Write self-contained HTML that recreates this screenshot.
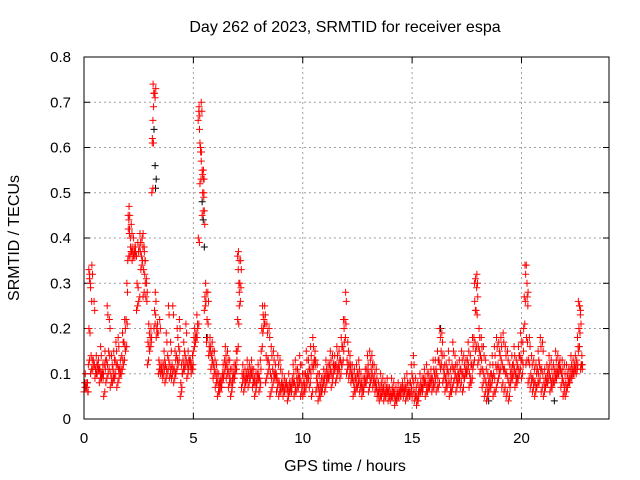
<!DOCTYPE html>
<html><head><meta charset="utf-8"><style>
body{margin:0;background:#fff;}
svg{display:block;font-family:"Liberation Sans",sans-serif;}
</style></head><body>
<svg id="chart" width="640" height="480" viewBox="0 0 640 480" xmlns="http://www.w3.org/2000/svg">
<rect width="640" height="480" fill="#fff"/>
<text x="345" y="32" font-size="16" text-anchor="middle">Day 262 of 2023, SRMTID for receiver espa</text>
<text transform="translate(19,238) rotate(-90)" font-size="16" text-anchor="middle">SRMTID / TECUs</text>
<text x="345" y="471" font-size="16" text-anchor="middle">GPS time / hours</text>
<g id="grid"></g><g id="axes"></g><g id="marks"></g>
<rect x="84" y="57" width="525" height="362" fill="none" stroke="#000" stroke-width="1"/>
</svg>
<script>
const xTicks=[0,5,10,15,20];
const yTicks=[0,0.1,0.2,0.3,0.4,0.5,0.6,0.7,0.8];
const yTickLabels=["0","0.1","0.2","0.3","0.4","0.5","0.6","0.7","0.8"];
const step=0.1;
const lowVals=[.06,.07,.12,.10,.11,.09,.10,.08,.09,.05,
.08,.10,.07,.08,.09,.07,.09,.10,.12,.15,
.35,.36,.35,.36,.24,.26,.33,.27,.30,.12,
.15,.50,.20,.18,.10,.10,.09,.08,.10,.09,
.09,.08,.10,.12,.05,.10,.11,.09,.12,.10,
.15,.17,.20,.52,.45,.24,.17,.14,.11,.09,
.07,.05,.06,.08,.10,.09,.07,.05,.08,.10,
.15,.25,.07,.06,.08,.07,.09,.07,.05,.08,
.06,.15,.20,.08,.10,.05,.07,.09,.06,.05,
.06,.05,.07,.04,.06,.07,.05,.06,.07,.05,
.05,.06,.08,.07,.05,.12,.06,.04,.05,.07,
.06,.08,.09,.07,.10,.08,.10,.09,.12,.17,
.10,.09,.08,.05,.06,.07,.06,.05,.07,.08,
.06,.08,.07,.06,.05,.04,.05,.04,.05,.04,
.04,.05,.03,.04,.05,.06,.05,.04,.05,.05,
.05,.04,.03,.05,.06,.07,.05,.06,.07,.06,
.07,.06,.07,.11,.08,.06,.07,.05,.06,.08,
.06,.08,.07,.06,.09,.10,.07,.08,.12,.15,
.12,.10,.07,.05,.04,.06,.07,.05,.06,.08,
.10,.07,.06,.05,.04,.08,.09,.07,.08,.10,
.09,.20,.12,.08,.07,.06,.05,.07,.08,.06,
.05,.07,.08,.06,.07,.08,.09,.10,.07,.05,
.05,.07,.08,.09,.10,.10,.15,.11];
const midVals=[.08,.07,.20,.14,.13,.11,.12,.11,.10,.12,
.13,.15,.10,.11,.13,.12,.11,.14,.17,.22,
.42,.38,.37,.37,.30,.38,.36,.33,.27,.17,
.18,.62,.24,.20,.13,.11,.12,.12,.14,.12,
.12,.11,.14,.16,.08,.13,.14,.12,.13,.12,
.18,.19,.40,.60,.50,.27,.22,.16,.14,.12,
.10,.08,.08,.10,.13,.12,.10,.08,.10,.12,
.22,.30,.10,.09,.10,.10,.11,.09,.08,.10,
.09,.20,.22,.14,.13,.10,.11,.10,.09,.08,
.08,.07,.08,.07,.07,.09,.08,.09,.10,.08,
.08,.10,.10,.11,.12,.13,.09,.07,.07,.09,
.10,.10,.12,.10,.12,.12,.12,.13,.16,.22,
.13,.12,.10,.08,.09,.10,.08,.07,.09,.11,
.10,.11,.09,.08,.06,.07,.07,.06,.07,.06,
.06,.06,.05,.06,.06,.07,.07,.07,.06,.08,
.09,.06,.05,.07,.07,.09,.08,.08,.09,.09,
.10,.10,.13,.15,.11,.09,.11,.08,.12,.11,
.09,.10,.11,.10,.11,.13,.10,.12,.18,.24,
.16,.14,.11,.09,.07,.09,.10,.10,.12,.12,
.14,.12,.11,.10,.08,.11,.12,.10,.12,.14,
.13,.27,.18,.13,.10,.09,.08,.11,.12,.11,
.08,.09,.11,.09,.09,.11,.11,.12,.10,.08,
.08,.09,.11,.11,.12,.13,.20,.12];
const highVals=[.10,.08,.32,.34,.26,.14,.13,.16,.12,.15,
.25,.22,.14,.15,.17,.18,.13,.19,.22,.30,
.47,.43,.40,.38,.39,.41,.40,.37,.30,.21,
.20,.74,.28,.21,.22,.12,.15,.19,.25,.17,
.25,.15,.20,.22,.12,.17,.21,.15,.13,.14,
.20,.23,.69,.70,.55,.30,.28,.18,.17,.15,
.12,.10,.09,.12,.16,.15,.13,.11,.12,.15,
.37,.35,.12,.11,.13,.12,.13,.11,.10,.12,
.13,.25,.25,.21,.20,.16,.15,.12,.14,.13,
.10,.09,.08,.10,.08,.12,.13,.11,.14,.12,
.10,.15,.13,.16,.18,.15,.12,.10,.09,.11,
.13,.12,.15,.14,.14,.16,.15,.18,.22,.28,
.17,.14,.12,.11,.12,.13,.10,.09,.11,.14,
.15,.14,.12,.11,.08,.10,.09,.08,.09,.07,
.09,.08,.07,.08,.07,.08,.09,.10,.08,.12,
.14,.09,.08,.10,.09,.11,.12,.10,.11,.13,
.13,.15,.20,.19,.14,.12,.15,.11,.17,.14,
.12,.13,.15,.14,.13,.17,.14,.18,.26,.32,
.20,.18,.16,.13,.10,.12,.14,.16,.18,.17,
.18,.19,.16,.15,.12,.14,.16,.13,.16,.19,
.17,.34,.27,.18,.14,.13,.12,.15,.18,.17,
.11,.12,.14,.13,.12,.15,.14,.13,.13,.12,
.12,.11,.14,.13,.14,.18,.25,.14];
const peakTimes=[0.22,0.25,0.3,0.35,2.02,2.05,2.08,2.12,2.2,2.3,2.4,2.6,2.7,2.75,2.8,3.12,3.15,3.18,3.2,3.22,3.25,3.28,5.22,5.25,5.28,5.3,5.33,5.36,5.4,5.42,5.45,5.48,5.5,5.52,7.02,7.05,7.08,7.1,17.85,17.9,17.95,18.0,20.22,20.25,20.3,22.6,22.65,22.7,22.72];
const peakVals=[0.33,0.31,0.29,0.26,0.45,0.44,0.42,0.40,0.38,0.37,0.36,0.39,0.41,0.38,0.35,0.61,0.66,0.69,0.72,0.72,0.71,0.73,0.66,0.68,0.64,0.61,0.59,0.57,0.55,0.54,0.53,0.50,0.46,0.43,0.36,0.33,0.30,0.28,0.30,0.31,0.29,0.27,0.34,0.30,0.28,0.26,0.25,0.24,0.21];
const blackTimes=[3.2,3.25,3.3,3.27,5.4,5.45,5.5,5.6,16.3,19.8,18.5,21.5];
const blackVals=[0.64,0.56,0.53,0.51,0.48,0.44,0.38,0.18,0.20,0.09,0.04,0.04];

const X0=84,X1=609,Y0=419,Y1=57,XMAX=24,YMAX=0.8;
const xs=v=>X0+(v/XMAX)*(X1-X0);
const ys=v=>Y0-(v/YMAX)*(Y0-Y1);
const NS="http://www.w3.org/2000/svg";
const grid=document.getElementById('grid'),axes=document.getElementById('axes'),marks=document.getElementById('marks');
function mk(tag,parent){const e=document.createElementNS(NS,tag);parent.appendChild(e);return e;}
xTicks.forEach(t=>{
  const x=xs(t);
  if(t>0){const g=mk('line',grid);
  
  
  g.setAttribute('x1',x);g.setAttribute('x2',x);g.setAttribute('y1',Y1);g.setAttribute('y2',Y0);g.setAttribute('stroke','#a0a0a0');g.setAttribute('stroke-dasharray','2,3');}
  [[Y0,Y0-6],[Y1,Y1+6]].forEach(p=>{const k=mk('line',axes);
  
  
  k.setAttribute('x1',x);k.setAttribute('x2',x);k.setAttribute('y1',p[0]);k.setAttribute('y2',p[1]);k.setAttribute('stroke','#000');});
  const l=mk('text',axes);
  
  
  l.setAttribute('x',x);l.setAttribute('y',443);l.setAttribute('font-size','15');l.setAttribute('text-anchor','middle');l.textContent=String(t);
});
yTicks.forEach((t,i)=>{
  const y=ys(t);
  if(t>0&&t<YMAX){const g=mk('line',grid);
  
  
  g.setAttribute('x1',X0);g.setAttribute('x2',X1);g.setAttribute('y1',y);g.setAttribute('y2',y);g.setAttribute('stroke','#a0a0a0');g.setAttribute('stroke-dasharray','2,3');}
  [[X0,X0+6],[X1,X1-6]].forEach(p=>{const k=mk('line',axes);
  
  
  k.setAttribute('x1',p[0]);k.setAttribute('x2',p[1]);k.setAttribute('y1',y);k.setAttribute('y2',y);k.setAttribute('stroke','#000');});
  const l=mk('text',axes);
  
  
  l.setAttribute('x',71);l.setAttribute('y',y+5);l.setAttribute('font-size','15');l.setAttribute('text-anchor','end');l.textContent=yTickLabels[i];
});
function cross(t,v,color,name){
  const x=xs(t),y=ys(v);
  const p=mk('path',marks);
  
  
  p.setAttribute('d',`M${x-3.5} ${y}H${x+3.5}M${x} ${y-3.5}V${y+3.5}`);
  p.setAttribute('stroke',color);p.setAttribute('stroke-width','1');p.setAttribute('fill','none');
}
blackTimes.forEach((t,i)=>cross(t,blackVals[i],'#000','black-point'));
lowVals.forEach((v,i)=>cross(i*step,v,'#ff0000','red-point'));
lowVals.forEach((v,i)=>cross(i*step+0.05,v+0.01,'#ff0000','red-point'));
midVals.forEach((v,i)=>cross(i*step+0.025,v,'#ff0000','red-point'));
midVals.forEach((v,i)=>cross(i*step+0.075,v-0.01,'#ff0000','red-point'));
highVals.forEach((v,i)=>cross(i*step+0.06,v,'#ff0000','red-point'));
highVals.forEach((v,i)=>cross(i*step+0.09,v-0.02,'#ff0000','red-point'));
peakTimes.forEach((t,i)=>cross(t,peakVals[i],'#ff0000','red-peak-point'));
</script>
</body></html>
